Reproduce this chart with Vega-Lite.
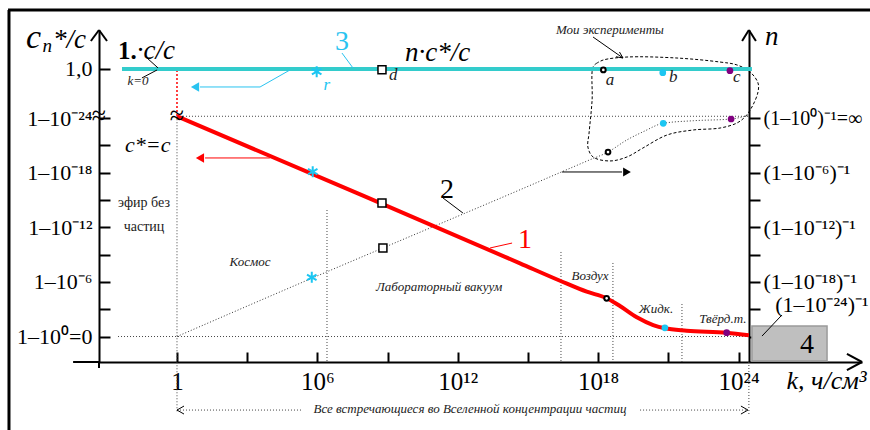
{
"$schema":"https://vega.github.io/schema/vega-lite/v6.json",
"width":763,"height":332,
"autosize":{"type":"none"},
"padding":{"left":99,"top":30,"right":8,"bottom":68},
"background":"white",
"config":{"view":{"stroke":null},"text":{"font":"Liberation Serif"}},
"datasets":{
"frame":[{"x":-7.22,"x2":29.62,"y":35.88,"y2":35.88},{"x":-7.18,"x2":-7.18,"y":35.88,"y2":-10.27}],
"axisx":[
{"x":-4.44,"x2":-3.333,"y":-2.8,"y2":-2.8},
{"x":-3.333,"x2":-3.333,"y":-2.8,"y2":-3.46},
{"x":-3.68,"x2":-3.333,"y":32.47,"y2":33.68},
{"x":-2.99,"x2":-3.333,"y":32.47,"y2":33.68},
{"x":24.15,"x2":24.44,"y":32.47,"y2":33.68},
{"x":24.74,"x2":24.44,"y":32.47,"y2":33.68},
{"x":28.63,"x2":29.274,"y":-1.92,"y2":-2.8},
{"x":28.63,"x2":29.274,"y":-3.68,"y2":-2.8}],
"leaders":[
{"x":-1.28,"x2":-0.81,"y":30.6,"y2":29.51},
{"x":-1.5,"x2":-0.85,"y":28.41,"y2":29.29},
{"x":11.37,"x2":12.22,"y":15.22,"y2":13.57},
{"x":25.0,"x2":25.85,"y":0.05,"y2":2.36},
{"x":17.78,"x2":19.06,"y":32.91,"y2":30.6},
{"x":18.91,"x2":19.06,"y":31.26,"y2":30.6},
{"x":18.76,"x2":19.06,"y":30.74,"y2":30.6},
{"x":16.45,"x2":19.02,"y":18.08,"y2":18.08},
{"x":0,"x2":0.3,"y":-8.08,"y2":-7.64},
{"x":0,"x2":0.3,"y":-8.08,"y2":-8.52},
{"x":24.4,"x2":24.1,"y":-8.08,"y2":-7.64},
{"x":24.4,"x2":24.1,"y":-8.08,"y2":-8.52}],
"redthin":[{"x":13.38,"x2":14.32,"y":9.73,"y2":10.27},{"x":3.97,"x2":1.2,"y":19.62,"y2":19.62}],
"cyanthin":[{"x":7.05,"x2":7.52,"y":31.15,"y2":29.51},{"x":4.83,"x2":3.55,"y":29.29,"y2":27.42},{"x":3.55,"x2":0.98,"y":27.42,"y2":27.42}],
"dotted":[
{"x":-2.52,"x2":24.44,"y":0,"y2":0},
{"x":0,"x2":24.44,"y":24.2,"y2":24.2},
{"x":0,"x2":0,"y":24.2,"y2":-8.3},
{"x":24.44,"x2":24.44,"y":-2.8,"y2":-8.63},
{"x":6.41,"x2":6.41,"y":13.9,"y2":-2.8},
{"x":16.41,"x2":16.41,"y":9.29,"y2":-2.8},
{"x":18.63,"x2":18.63,"y":8.08,"y2":-2.8},
{"x":21.58,"x2":21.58,"y":3.57,"y2":-2.8},
{"x":0,"x2":5.38,"y":-8.08,"y2":-8.08},
{"x":19.79,"x2":24.4,"y":-8.08,"y2":-8.08}],
"reddot":[{"x":-2.35,"x2":0,"y":29.29,"y2":29.29},{"x":0,"x2":0,"y":29.29,"y2":24.2}],
"cyanline":[{"x":-2.35,"x2":24.57,"y":29.4,"y2":29.4}],
"box":[{"x":24.57,"x2":27.78,"y":1.15,"y2":-2.69}],
"curve1":[
{"x":0,"y":24.2},{"x":8,"y":15.42},{"x":14.66,"y":8.04},{"x":16.37,"y":6.13},{"x":17.51,"y":4.92},{"x":18.36,"y":4.2},{"x":18.93,"y":3.35},{"x":19.65,"y":2.11},{"x":20.35,"y":1.26},{"x":20.85,"y":0.9},{"x":21.78,"y":0.64},{"x":23.49,"y":0.42},{"x":24.44,"y":0.15}],
"curve2":[
{"x":0,"y":0},{"x":5.76,"y":6.4},{"x":8.8,"y":9.73},{"x":14,"y":15.4},{"x":17.6,"y":19.37},{"x":18.42,"y":20.27},{"x":19.22,"y":21.59},{"x":19.93,"y":22.51},{"x":20.78,"y":23.43},{"x":22.06,"y":23.71},{"x":23.68,"y":23.9},{"x":24.4,"y":24.3}],
"exp":[
{"i":0,"x":17.95,"y":30.05},{"i":1,"x":17.78,"y":29.62},{"i":2,"x":17.74,"y":25.99},{"i":3,"x":17.61,"y":22.36},{"i":4,"x":17.56,"y":20.82},{"i":5,"x":17.78,"y":19.73},{"i":6,"x":18.5,"y":19.29},{"i":7,"x":19.23,"y":19.73},{"i":8,"x":19.91,"y":20.71},{"i":9,"x":20.94,"y":22.14},{"i":10,"x":22.05,"y":22.69},{"i":11,"x":23.21,"y":22.91},{"i":12,"x":23.93,"y":23.46},{"i":13,"x":24.27,"y":24.12},{"i":14,"x":24.57,"y":25.22},{"i":15,"x":24.83,"y":26.87},{"i":16,"x":24.83,"y":27.86},{"i":17,"x":24.49,"y":29.07},{"i":18,"x":23.93,"y":29.84},{"i":19,"x":23.21,"y":30.16},{"i":20,"x":21.37,"y":30.6},{"i":21,"x":19.23,"y":30.71},{"i":22,"x":18.21,"y":30.38},{"i":23,"x":17.95,"y":30.05}],
"squares":[{"x":8.76,"y":29.3},{"x":8.76,"y":14.67},{"x":8.8,"y":9.73}],
"ocirc":[{"x":18.22,"y":29.29},{"x":18.42,"y":20.27},{"x":18.36,"y":4.2}],
"cyandots":[{"x":20.76,"y":28.99},{"x":20.78,"y":23.43},{"x":20.85,"y":0.95}],
"purpledots":[{"x":23.63,"y":29.21},{"x":23.68,"y":23.9},{"x":23.49,"y":0.42}],
"asterisks":[{"x":5.97,"y":29.1},{"x":5.8,"y":18.11},{"x":5.76,"y":6.51}],
"headleft_cyan":[{"x":0.77,"y":27.42}],
"headleft_red":[{"x":0.98,"y":19.62}],
"headright":[{"x":19.23,"y":18.08}],
"titlec":[{"x":-6.45,"y":31.7,"t":"c"}],
"bigital":[{"x":-5.3,"y":31.7,"t":"*/c"},{"x":9.74,"y":30.27,"t":"n·c*/c"},{"x":25.13,"y":32.03,"t":"n"}],
"kunit":[{"x":26.05,"y":-5.77,"t":"k, ч/см³"}],
"subn":[{"x":-5.75,"y":31.26,"t":"n"}],
"bold1":[{"x":-2.52,"y":30.49,"t":"1."}],
"cc":[{"x":-1.72,"y":30.49,"t":"·c/c"}],
"ceq":[{"x":-2.22,"y":20.27,"t":"c*=c"}],
"smallital":[{"x":-1.67,"y":28.08,"t":"k=0"},{"x":3.12,"y":8.19,"t":"Космос"},{"x":11.2,"y":5.44,"t":"Лабораторный вакуум"},{"x":17.65,"y":6.65,"t":"Воздух"},{"x":20.47,"y":3.02,"t":"Жидк."},{"x":23.33,"y":1.92,"t":"Твёрд.т."},{"x":18.5,"y":33.68,"t":"Мои эксперименты"},{"x":12.52,"y":-7.97,"t":"Все встречающиеся во Вселенной концентрации частиц"}],
"smallreg":[{"x":-1.41,"y":14.67,"t":"эфир без"},{"x":-1.41,"y":12.03,"t":"частиц"}],
"letters":[{"x":9.24,"y":28.74,"t":"d"},{"x":18.51,"y":28.19,"t":"a"},{"x":21.21,"y":28.47,"t":"b"},{"x":23.92,"y":28.47,"t":"c"}],
"letter_r":[{"x":6.4,"y":27.64,"t":"r"}],
"num_black":[{"x":11.54,"y":16.1,"t":"2"},{"x":26.92,"y":-0.93,"t":"4"}],
"num_cyan":[{"x":7.05,"y":32.36,"t":"3"}],
"num_red":[{"x":14.87,"y":10.6,"t":"1"}],
"nlabel":[{"x":27.56,"y":3.46,"t":"(1–10⁻²⁴)⁻¹"}],
"breaks":[{"x":-3.333,"y":24.23,"t":"≈"},{"x":0,"y":24.23,"t":"≈"}]
},
"encoding":{
"x":{"field":"x","type":"quantitative","scale":{"domain":[-3.333,29.274],"nice":false,"zero":false},
 "axis":{"orient":"bottom","domain":true,"ticks":true,"values":[0,3,6,9,12,15,18,21,24],"labelExpr":"datum.value==0?'1':datum.value==6?'10⁶':datum.value==12?'10¹²':datum.value==18?'10¹⁸':datum.value==24?'10²⁴':''","title":null,"grid":false,"domainColor":"#000","domainWidth":2,"tickColor":"#000","tickWidth":2,"tickSize":-10,"labelPadding":37,"labelBaseline":"alphabetic","labelFont":"Liberation Serif","labelFontSize":25,"labelColor":"#000","labelOverlap":false,"labelBound":false,"labelFlush":false}},
"y":{"field":"y","type":"quantitative","scale":{"domain":[-2.8,33.68],"nice":false,"zero":false},"axis":null}
},
"layer":[
{"data":{"name":"frame"},"mark":{"type":"rule","color":"#000","strokeWidth":3},"encoding":{"x2":{"field":"x2"},"y2":{"field":"y2"}}},
{"data":{"name":"dotted"},"mark":{"type":"rule","color":"#444","strokeWidth":1,"strokeDash":[1,2]},"encoding":{"x2":{"field":"x2"},"y2":{"field":"y2"}}},
{"data":{"name":"reddot"},"mark":{"type":"rule","color":"#ff0000","strokeWidth":1.5,"strokeDash":[2,2]},"encoding":{"x2":{"field":"x2"},"y2":{"field":"y2"}}},
{"data":{"name":"box"},"mark":{"type":"rect","fill":"#bfbfbf","stroke":"#9a9a9a","strokeWidth":1.5},"encoding":{"x2":{"field":"x2"},"y2":{"field":"y2"}}},
{"data":{"name":"exp"},"mark":{"type":"line","color":"#000","strokeWidth":1,"strokeDash":[3,2],"interpolate":"catmull-rom"},"encoding":{"order":{"field":"i","type":"quantitative"}}},
{"data":{"name":"curve2"},"mark":{"type":"line","color":"#333","strokeWidth":1,"strokeDash":[1,2],"interpolate":"monotone"},
 "encoding":{"y":{"field":"y","type":"quantitative","scale":{"domain":[-2.8,33.68],"nice":false,"zero":false},
  "axis":{"orient":"right","offset":-113,"values":[0,3,6,9,12,15,18,21,24],"labelExpr":"datum.value==24?'(1–10⁰)⁻¹=∞':datum.value==18?'(1–10⁻⁶)⁻¹':datum.value==12?'(1–10⁻¹²)⁻¹':datum.value==6?'(1–10⁻¹⁸)⁻¹':''","title":null,"grid":false,"domainColor":"#000","domainWidth":2,"tickColor":"#000","tickWidth":2,"tickSize":11,"labelPadding":3,"labelFont":"Liberation Serif","labelFontSize":{"condition":{"test":"datum.value==24","value":20},"value":22},"labelColor":"#000","labelOverlap":false,"labelBound":false,"labelFlush":false}}}},
{"data":{"name":"cyanline"},"mark":{"type":"rule","color":"#33cccc","strokeWidth":4},"encoding":{"x2":{"field":"x2"},"y2":{"field":"y2"}}},
{"data":{"name":"curve1"},"mark":{"type":"line","color":"#ff0000","strokeWidth":4,"interpolate":"monotone"},
 "encoding":{
  "y":{"field":"y","type":"quantitative","scale":{"domain":[-2.8,33.68],"nice":false,"zero":false},
   "axis":{"orient":"left","values":[0,3,6,9,12,15,18,21,24,29.4],"labelExpr":"datum.value==0?'1–10⁰=0':datum.value==6?'1–10⁻⁶':datum.value==12?'1–10⁻¹²':datum.value==18?'1–10⁻¹⁸':datum.value==24?'1–10⁻²⁴':datum.value>29?'1,0':''","title":null,"grid":false,"domainColor":"#000","domainWidth":2,"tickColor":"#000","tickWidth":2,"tickSize":-11,"labelPadding":18,"labelFont":"Liberation Serif","labelFontSize":22,"labelColor":"#000","labelOverlap":false,"labelBound":false,"labelFlush":false}}}},
{"data":{"name":"axisx"},"mark":{"type":"rule","color":"#000","strokeWidth":2},"encoding":{"x2":{"field":"x2"},"y2":{"field":"y2"}}},
{"data":{"name":"leaders"},"mark":{"type":"rule","color":"#000","strokeWidth":1},"encoding":{"x2":{"field":"x2"},"y2":{"field":"y2"}}},
{"data":{"name":"redthin"},"mark":{"type":"rule","color":"#ff0000","strokeWidth":1},"encoding":{"x2":{"field":"x2"},"y2":{"field":"y2"}}},
{"data":{"name":"cyanthin"},"mark":{"type":"rule","color":"#29c3f0","strokeWidth":1},"encoding":{"x2":{"field":"x2"},"y2":{"field":"y2"}}},
{"data":{"name":"headleft_cyan"},"mark":{"type":"point","shape":"triangle-left","filled":true,"color":"#29c3f0","size":90,"opacity":1}},
{"data":{"name":"headleft_red"},"mark":{"type":"point","shape":"triangle-left","filled":true,"color":"#ff0000","size":90,"opacity":1}},
{"data":{"name":"headright"},"mark":{"type":"point","shape":"triangle-right","filled":true,"color":"#000","size":80,"opacity":1}},
{"data":{"name":"squares"},"mark":{"type":"point","shape":"square","filled":true,"fill":"#fff","stroke":"#000","strokeWidth":1.5,"size":64,"opacity":1}},
{"data":{"name":"ocirc"},"mark":{"type":"point","shape":"circle","filled":true,"fill":"#fff","stroke":"#000","strokeWidth":2,"size":22,"opacity":1}},
{"data":{"name":"cyandots"},"mark":{"type":"point","shape":"circle","filled":true,"color":"#1cc6f2","size":45,"opacity":1}},
{"data":{"name":"purpledots"},"mark":{"type":"point","shape":"circle","filled":true,"color":"#800080","size":45,"opacity":1}},
{"data":{"name":"asterisks"},"mark":{"type":"point","shape":"M0,-1L0,1M-0.87,-0.5L0.87,0.5M-0.87,0.5L0.87,-0.5","filled":false,"stroke":"#1cc6f2","strokeWidth":2,"size":120,"opacity":1}},
{"data":{"name":"titlec"},"mark":{"type":"text","font":"Liberation Serif","align":"left","baseline":"alphabetic","fontSize":34,"fontStyle":"italic","color":"#000"},"encoding":{"text":{"field":"t"}}},
{"data":{"name":"bigital"},"mark":{"type":"text","font":"Liberation Serif","align":"left","baseline":"alphabetic","fontSize":27,"fontStyle":"italic","color":"#000"},"encoding":{"text":{"field":"t"}}},
{"data":{"name":"kunit"},"mark":{"type":"text","font":"Liberation Serif","align":"left","baseline":"alphabetic","fontSize":26,"fontStyle":"italic","color":"#000"},"encoding":{"text":{"field":"t"}}},
{"data":{"name":"subn"},"mark":{"type":"text","font":"Liberation Serif","align":"left","baseline":"alphabetic","fontSize":19,"fontStyle":"italic","color":"#000"},"encoding":{"text":{"field":"t"}}},
{"data":{"name":"bold1"},"mark":{"type":"text","font":"Liberation Serif","align":"left","baseline":"alphabetic","fontSize":25,"fontWeight":"bold","color":"#000"},"encoding":{"text":{"field":"t"}}},
{"data":{"name":"cc"},"mark":{"type":"text","font":"Liberation Serif","align":"left","baseline":"alphabetic","fontSize":27,"fontStyle":"italic","color":"#000"},"encoding":{"text":{"field":"t"}}},
{"data":{"name":"ceq"},"mark":{"type":"text","font":"Liberation Serif","align":"left","baseline":"alphabetic","fontSize":22,"fontStyle":"italic","color":"#000"},"encoding":{"text":{"field":"t"}}},
{"data":{"name":"smallital"},"mark":{"type":"text","font":"Liberation Serif","align":"center","baseline":"middle","fontSize":13,"fontStyle":"italic","color":"#222"},"encoding":{"text":{"field":"t"}}},
{"data":{"name":"smallreg"},"mark":{"type":"text","font":"Liberation Serif","align":"center","baseline":"middle","fontSize":14,"color":"#222"},"encoding":{"text":{"field":"t"}}},
{"data":{"name":"letters"},"mark":{"type":"text","font":"Liberation Serif","align":"center","baseline":"middle","fontSize":17,"fontStyle":"italic","color":"#222"},"encoding":{"text":{"field":"t"}}},
{"data":{"name":"letter_r"},"mark":{"type":"text","font":"Liberation Serif","align":"center","baseline":"middle","fontSize":17,"fontStyle":"italic","color":"#1cc6f2"},"encoding":{"text":{"field":"t"}}},
{"data":{"name":"num_black"},"mark":{"type":"text","font":"Liberation Serif","align":"center","baseline":"middle","fontSize":28,"color":"#000"},"encoding":{"text":{"field":"t"}}},
{"data":{"name":"num_cyan"},"mark":{"type":"text","font":"Liberation Serif","align":"center","baseline":"middle","fontSize":28,"color":"#29c3f0"},"encoding":{"text":{"field":"t"}}},
{"data":{"name":"num_red"},"mark":{"type":"text","font":"Liberation Serif","align":"center","baseline":"middle","fontSize":28,"color":"#ff0000"},"encoding":{"text":{"field":"t"}}},
{"data":{"name":"nlabel"},"mark":{"type":"text","font":"Liberation Serif","align":"center","baseline":"middle","fontSize":22,"color":"#000"},"encoding":{"text":{"field":"t"}}},
{"data":{"name":"breaks"},"mark":{"type":"text","font":"Liberation Serif","align":"center","baseline":"middle","fontSize":26,"color":"#000"},"encoding":{"text":{"field":"t"}}}
],
"resolve":{"axis":{"y":"independent"}}
}
